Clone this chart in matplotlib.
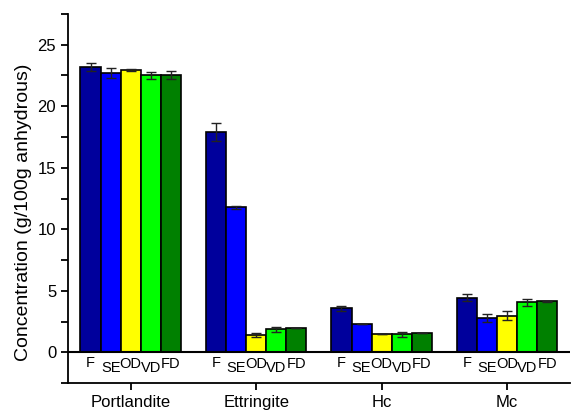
import matplotlib
matplotlib.use('Agg')
import matplotlib.pyplot as plt
from matplotlib.ticker import MultipleLocator
import numpy as np

plt.rcParams['font.family'] = ['Liberation Sans', 'DejaVu Sans']

groups = ['Portlandite', 'Ettringite', 'Hc', 'Mc']
series = ['F', 'SE', 'OD', 'VD', 'FD']
colors = ['#00009c', '#0000ff', '#ffff00', '#00ff00', '#008000']

# rows = series, cols = groups
vals = np.array([
    [23.2, 17.9, 3.58, 4.45],   # F
    [22.7, 11.8, 2.28, 2.8],    # SE
    [22.95, 1.38, 1.47, 2.98],  # OD
    [22.5, 1.87, 1.47, 4.07],   # VD
    [22.55, 1.95, 1.6, 4.15],   # FD
])
errs = np.array([
    [0.35, 0.7, 0.2, 0.25],
    [0.4, 0.12, 0.0, 0.3],
    [0.08, 0.15, 0.0, 0.35],
    [0.25, 0.2, 0.2, 0.3],
    [0.3, 0.0, 0.0, 0.05],
])
label_y = [-0.9, -1.3, -0.95, -1.3, -0.95]

fig = plt.figure(figsize=(5.71, 4.11), dpi=100)
ax = fig.add_axes([0.119, 0.068, 0.879, 0.898])

x = np.arange(len(groups))
w = 0.16
for i, s in enumerate(series):
    pos = x + (i - 2) * w
    ax.bar(pos, vals[i], width=w, color=colors[i], edgecolor='black',
           linewidth=1.2, zorder=2)
    ax.errorbar(pos, vals[i], yerr=errs[i], fmt='none', ecolor='#222222',
                elinewidth=1, capsize=3.5, capthick=1, zorder=3)
    for p in pos:
        ax.text(p, label_y[i], s, ha='center', va='center', fontsize=10.5)

ax.axhline(0, color='black', linewidth=1.5, zorder=4)
ax.set_xlim(-0.5, 3.5)
ax.set_ylim(-2.5, 27.5)
ax.set_xticks(x)
ax.set_xticklabels(groups, fontsize=12)
ax.set_yticks([0, 5, 10, 15, 20, 25])
ax.yaxis.set_minor_locator(MultipleLocator(2.5))
ax.tick_params(axis='y', labelsize=12, length=5, width=1.3)
ax.tick_params(axis='y', which='minor', length=5, width=1.3)
ax.tick_params(axis='x', length=5, width=1.3)
ax.set_ylabel('Concentration (g/100g anhydrous)', fontsize=14, y=0.463)

for sp in ['top', 'right']:
    ax.spines[sp].set_visible(False)
for sp in ['left', 'bottom']:
    ax.spines[sp].set_linewidth(1.3)

fig.savefig('out.png', dpi=100)
